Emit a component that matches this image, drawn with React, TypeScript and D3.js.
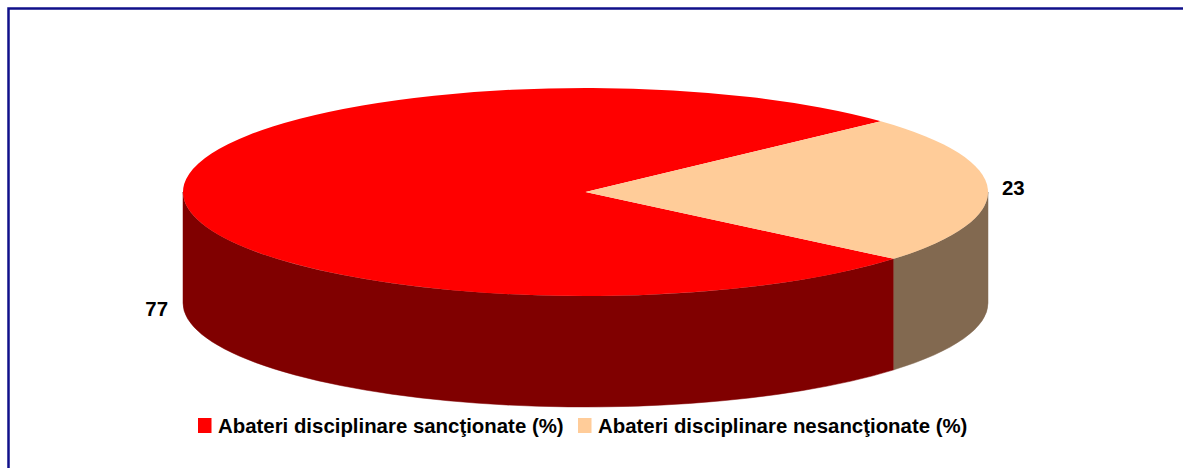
import React from 'react';
import * as d3 from 'd3';

// data
const categories = ['Abateri disciplinare sancţionate (%)', 'Abateri disciplinare nesancţionate (%)'];
const values = [77, 23];
const topColors = ['#ff0000', '#ffcc99'];
const sideColors = ['#800000', '#826950'];

const W = 1183, H = 468;
const cx = 585.5, cy = 192, rx = 402.5, ry = 104, depth = 111;
const firstAngle = (130 / 180) * Math.PI;
const FONT = '"Liberation Sans", Arial, sans-serif';

// d3 angle: 0 at 12 o'clock, clockwise
const pt = (a: number, dy = 0): [number, number] => [cx + rx * Math.sin(a), cy - ry * Math.cos(a) + dy];

function sidePath(a0: number, a1: number) {
  const p0 = pt(a0), p1 = pt(a1), q1 = pt(a1, depth), q0 = pt(a0, depth);
  return `M${p0[0]},${p0[1]}A${rx},${ry} 0 0 1 ${p1[0]},${p1[1]}L${q1[0]},${q1[1]}A${rx},${ry} 0 0 0 ${q0[0]},${q0[1]}Z`;
}

// clip slice range to the visible front half (PI/2 .. 3PI/2), checking wraps
function frontParts(s: number, e: number): [number, number][] {
  const out: [number, number][] = [];
  for (const k of [-2, 0, 2]) {
    const lo = Math.PI / 2 + k * Math.PI, hi = 1.5 * Math.PI + k * Math.PI;
    const a = Math.max(s, lo), b = Math.min(e, hi);
    if (b > a) out.push([a, b]);
  }
  return out;
}

export default function App() {
  const pie = d3.pie<number>().sort(null).startAngle(firstAngle).endAngle(firstAngle + 2 * Math.PI);
  const arcs = pie(values);
  const arc = d3.arc<d3.PieArcDatum<number>>().innerRadius(0).outerRadius(rx);

  const labelAnchor = [
    { x: cx - rx - 15, y: cy + depth + 13, anchor: 'end' },
    { x: cx + rx + 14, y: cy + 3, anchor: 'start' },
  ];

  const legendX = [198, 578];

  return (
    <svg width={W} height={H} style={{ position: 'absolute', left: 0, top: 0, background: '#fff' }}>
      <path d={`M8.5,${H}L8.5,8.5L${W},8.5`} fill="none" stroke="#10108a" strokeWidth={2.5} />

      {/* sides */}
      {arcs.map((d, i) =>
        frontParts(d.startAngle, d.endAngle).map((p, j) => (
          <path key={`s${i}-${j}`} d={sidePath(p[0], p[1])} fill={sideColors[i]} stroke={sideColors[i]} strokeWidth={0.5} />
        ))
      )}

      {/* tops */}
      <g transform={`translate(${cx},${cy}) scale(1,${ry / rx})`}>
        {arcs.map((d, i) => (
          <path key={`t${i}`} d={arc(d) || ''} fill={topColors[i]} />
        ))}
      </g>

      {/* data labels */}
      {arcs.map((d, i) => (
        <text key={`l${i}`} x={labelAnchor[i].x} y={labelAnchor[i].y} textAnchor={labelAnchor[i].anchor as any}
          fontFamily={FONT} fontWeight="bold" fontSize={20.4} fill="#000">
          {values[i]}
        </text>
      ))}

      {/* legend */}
      {categories.map((c, i) => (
        <g key={`g${i}`} transform={`translate(${legendX[i]},418)`}>
          <rect x={0} y={0} width={13.5} height={15} fill={topColors[i]} />
          <text x={20} y={14.6} fontFamily={FONT} fontWeight="bold" fontSize={20.4} fill="#000">{c}</text>
        </g>
      ))}
    </svg>
  );
}
